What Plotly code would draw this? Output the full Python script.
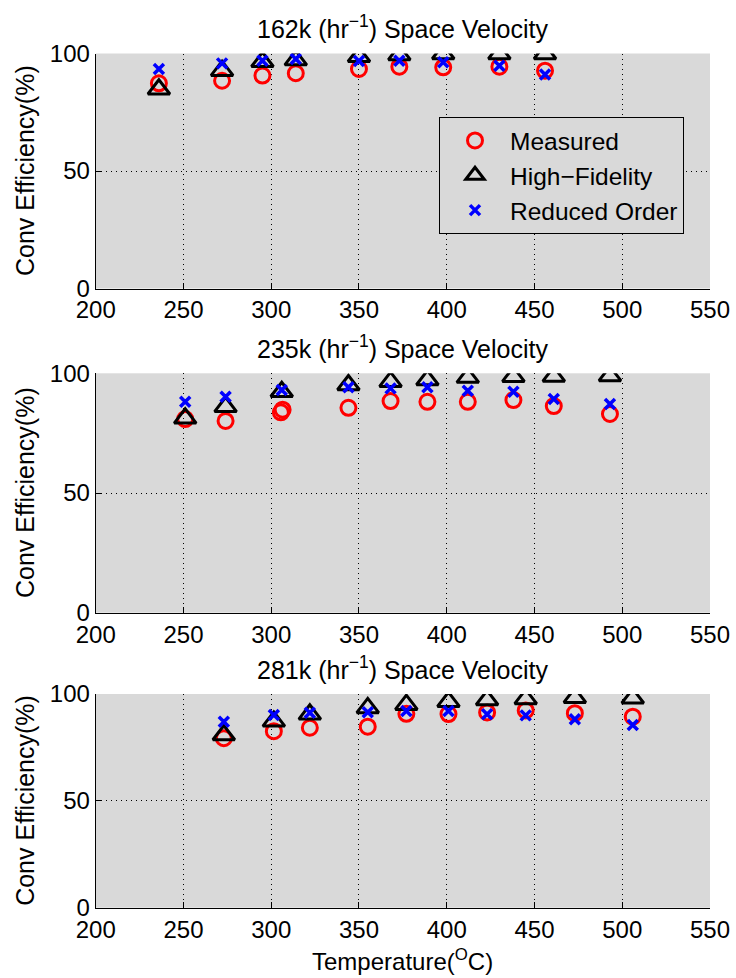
import plotly.graph_objects as go

# panel titles (space velocity)
panels = ["162k", "235k", "281k"]

# 162k panel
temps_162 = [236, 272, 295, 314, 350, 373, 398, 430, 456]
meas_162 = [87.3, 88.4, 90.6, 91.6, 93.4, 94.4, 94.1, 94.4, 92.7]
hifi_162 = [84.8, 92.7, 96.5, 97.2, 98.6, 99.4, 99.8, 99.8, 99.8]
red_162 = [93.4, 95.8, 96.9, 97.7, 96.8, 96.9, 96.3, 94.8, 91.1]

# 235k panel (two measured points overlap near 306 C)
temps_235 = [251, 274, 306, 344, 368, 389, 412, 438, 461, 493]
meas_t_235 = [251, 274, 305.5, 306.5, 344, 368, 389, 412, 438, 461, 493]
meas_235 = [80.9, 80.1, 83.7, 84.8, 85.6, 88.4, 88.1, 88.1, 88.8, 86.3, 83.0]
hifi_235 = [81.2, 86.0, 92.3, 95.1, 96.5, 97.2, 98.2, 98.6, 98.7, 98.9]
red_235 = [88.1, 90.2, 93.0, 94.2, 93.7, 94.2, 92.7, 92.3, 89.3, 87.2]

# 281k panel
temps_281 = [273, 301.5, 322, 355, 377, 401, 423, 445, 473, 506]
meas_281 = [79.3, 82.6, 84.2, 84.7, 90.7, 90.6, 91.4, 92.3, 91.0, 89.4]
hifi_281 = [80.8, 87.2, 90.5, 93.5, 95.0, 96.4, 97.2, 97.7, 98.3, 98.0]
red_281 = [87.0, 90.2, 91.2, 91.5, 92.0, 92.0, 90.5, 90.0, 88.2, 85.5]

x_ticks = [200, 250, 300, 350, 400, 450, 500, 550]
y_ticks = [0, 50, 100]

data = [
    (temps_162, meas_162, temps_162, hifi_162, red_162),
    (meas_t_235, meas_235, temps_235, hifi_235, red_235),
    (temps_281, meas_281, temps_281, hifi_281, red_281),
]

FONT = "Liberation Sans, Arial, Helvetica, sans-serif"
W, H = 736, 978
x_dom = [95.7 / W, 710 / W]
# pixel top/bottom of each axes box
boxes = [(53.5, 288.5), (373.3, 612.7), (694, 907.7)]

fig = go.Figure()

for i, (mx, my, tx, hy, ry) in enumerate(data):
    ax = "" if i == 0 else str(i + 1)
    first = i == 0
    fig.add_trace(go.Scatter(
        x=mx, y=my, mode="markers", name="Measured", showlegend=first,
        xaxis="x" + ax, yaxis="y" + ax,
        marker=dict(symbol="circle-open", size=15, color="#ff0000",
                    line=dict(width=3, color="#ff0000"))
    ))
    fig.add_trace(go.Scatter(
        x=tx, y=hy, mode="markers", name="High\u2212Fidelity", showlegend=first,
        xaxis="x" + ax, yaxis="y" + ax,
        marker=dict(symbol="triangle-up-open", size=19, color="black",
                    line=dict(width=3, color="black"))
    ))
    fig.add_trace(go.Scatter(
        x=tx, y=ry, mode="markers", name="Reduced Order", showlegend=first,
        xaxis="x" + ax, yaxis="y" + ax,
        marker=dict(symbol="x-thin", size=10, color="#0000ff",
                    line=dict(width=3.5, color="#0000ff"))
    ))

layout = dict(
    width=W, height=H,
    margin=dict(l=0, r=0, t=0, b=0, autoexpand=False),
    paper_bgcolor="white",
    plot_bgcolor="#d9d9d9",
    font=dict(family=FONT, size=24, color="black"),
    legend=dict(
        x=439 / W, y=1 - 117 / H, xanchor="left", yanchor="top",
        bgcolor="#d9d9d9", bordercolor="black", borderwidth=1,
        font=dict(size=24.5), itemwidth=60,
    ),
)

annotations = []
for i, (top, bot) in enumerate(boxes):
    ax = "" if i == 0 else str(i + 1)
    y_dom = [1 - bot / H, 1 - top / H]
    common = dict(
        showline=True, linecolor="black", linewidth=1, mirror=False,
        ticks="inside", ticklen=6, tickcolor="black",
        showgrid=True, gridcolor="black", gridwidth=1, griddash="1px,4px",
        zeroline=False, tickfont=dict(size=24), automargin=False,
    )
    layout["xaxis" + ax] = dict(
        domain=x_dom, range=[200, 550], tickvals=x_ticks,
        anchor="y" + ax, **common
    )
    layout["yaxis" + ax] = dict(
        domain=y_dom, range=[0, 100], tickvals=y_ticks,
        anchor="x" + ax, **common
    )
    annotations.append(dict(
        text=panels[i] + " (hr<sup>\u22121</sup>) Space Velocity",
        x=(x_dom[0] + x_dom[1]) / 2, y=1 - (top - 26.5) / H,
        xref="paper", yref="paper", xanchor="center", yanchor="middle",
        showarrow=False, font=dict(size=25)
    ))
    annotations.append(dict(
        text="Conv Efficiency(%)", textangle=-90,
        x=25 / W, y=1 - (top + bot) / 2 / H,
        xref="paper", yref="paper", xanchor="center", yanchor="middle",
        showarrow=False, font=dict(size=25)
    ))

annotations.append(dict(
    text="Temperature(<sup>O</sup>C)",
    x=(x_dom[0] + x_dom[1]) / 2, y=1 - 960 / H,
    xref="paper", yref="paper", xanchor="center", yanchor="middle",
    showarrow=False, font=dict(size=24)
))
layout["annotations"] = annotations

fig.update_layout(**layout)
# drop the page's default body margin so the figure sits at the window corner
fig.write_html("out.html", config={"displayModeBar": False},
               post_script="document.body.style.margin='0';")
